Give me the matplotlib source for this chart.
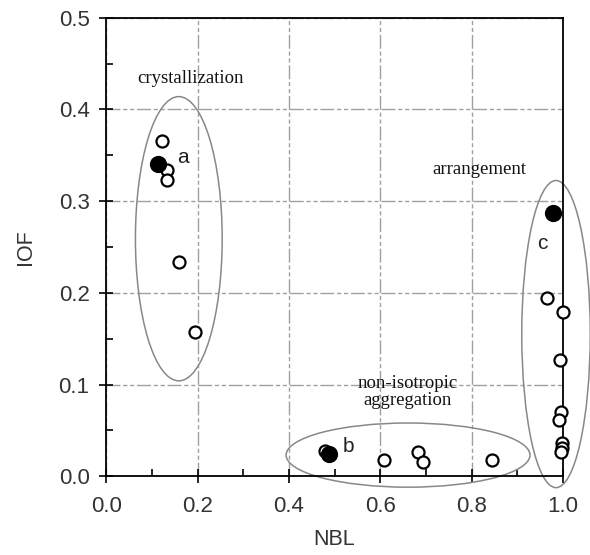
import matplotlib
matplotlib.use("Agg")
import matplotlib.pyplot as plt
from matplotlib.patches import Ellipse
from matplotlib.ticker import MultipleLocator, FormatStrFormatter

# open symbols
open_nbl = [0.123, 0.134, 0.133, 0.160, 0.195,
            0.480, 0.608, 0.683, 0.694, 0.845,
            0.965, 1.000, 0.993, 0.996, 0.991, 0.998, 0.998, 0.997]
open_iof = [0.366, 0.334, 0.323, 0.234, 0.157,
            0.027, 0.018, 0.026, 0.015, 0.018,
            0.194, 0.179, 0.127, 0.070, 0.061, 0.036, 0.031, 0.026]

# filled symbols a, b, c
filled_nbl = [0.114, 0.488, 0.978]
filled_iof = [0.340, 0.024, 0.287]
filled_names = ['a', 'b', 'c']
name_pos = [(0.168, 0.348), (0.530, 0.032), (0.955, 0.254)]

# group ellipses: (centre x, centre y, width, height, label, label x, label y)
groups = [
    (0.159, 0.259, 0.19, 0.31, 'crystallization', 0.184, 0.434),
    (0.985, 0.155, 0.15, 0.335, 'arrangement', 0.818, 0.334),
    (0.661, 0.023, 0.534, 0.070, 'non-isotropic\naggregation', 0.660, 0.092),
]

plt.rcParams['font.family'] = ['Liberation Sans', 'DejaVu Sans']

fig = plt.figure(figsize=(5.9, 5.55), dpi=100)
ax = fig.add_axes([0.18, 0.142, 0.774, 0.826])

ax.set_xlim(0, 1.0)
ax.set_ylim(0, 0.5)
ax.xaxis.set_major_locator(MultipleLocator(0.2))
ax.xaxis.set_minor_locator(MultipleLocator(0.1))
ax.yaxis.set_major_locator(MultipleLocator(0.1))
ax.yaxis.set_minor_locator(MultipleLocator(0.05))
ax.xaxis.set_major_formatter(FormatStrFormatter('%.1f'))
ax.yaxis.set_major_formatter(FormatStrFormatter('%.1f'))
ax.tick_params(which='major', direction='inout', length=10, width=1.2,
               labelsize=16, labelcolor='#333333')
ax.tick_params(axis='x', which='major', pad=9)
ax.tick_params(axis='y', which='major', pad=7)
ax.tick_params(which='minor', direction='in', length=5, width=1.2)
for s in ax.spines.values():
    s.set_linewidth(1.3)
ax.grid(True, which='major', color='#a0a0a0', linewidth=1.0,
        dashes=(10, 2, 3, 2, 3, 2))

ax.scatter(open_nbl, open_iof, s=75, facecolors='white', edgecolors='black',
           linewidths=1.6, marker='o', zorder=3, clip_on=False)
ax.scatter(filled_nbl, filled_iof, s=130, color='black', marker='o',
           zorder=4, clip_on=False)

for name, (px, py) in zip(filled_names, name_pos):
    ax.text(px, py, name, fontsize=15, color='#222222', ha='center', va='center')

for cx, cy, w, h, label, lx, ly in groups:
    ax.add_patch(Ellipse((cx, cy), w, h, fill=False, edgecolor='#888888',
                         linewidth=1.1, clip_on=False, zorder=2))
    ax.text(lx, ly, label, family='Liberation Serif', fontsize=13.5,
            color='#111111', ha='center', va='center', linespacing=1.0)

ax.set_xlabel('NBL', fontsize=15.5, color='#333333', labelpad=9)
ax.set_ylabel('IOF', fontsize=15.5, color='#333333', labelpad=16)

fig.savefig('out.png', dpi=100)
